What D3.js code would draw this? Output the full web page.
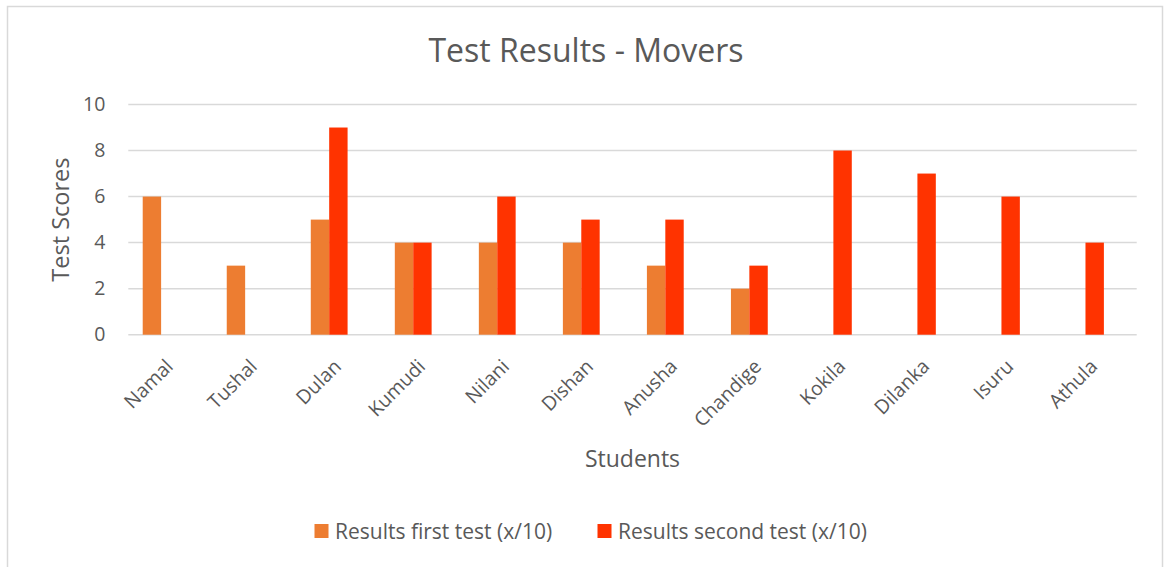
<!DOCTYPE html>
<html>
<head>
    <meta charset="UTF-8">
    <title>Test Results - Movers</title>
    <style>
        body { margin: 0; background: #fff; }
        text { font-family: "Open Sans", sans-serif; fill: #595959; }
    </style>
</head>
<body>
    <div id="graph-container"></div>

    <script src="https://cdn.jsdelivr.net/npm/d3@7"></script>
    <script>
        // Data
        const students = ["Namal", "Tushal", "Dulan", "Kumudi", "Nilani", "Dishan",
            "Anusha", "Chandige", "Kokila", "Dilanka", "Isuru", "Athula"];
        const firstTest = [6, 3, 5, 4, 4, 4, 3, 2, null, null, null, null];
        const secondTest = [null, null, 9, 4, 6, 5, 5, 3, 8, 7, 6, 4];
        const yTicks = [0, 2, 4, 6, 8, 10];

        const series = [
            { key: "first", name: "Results first test (x/10)", values: firstTest, color: "#ED7D31" },
            { key: "second", name: "Results second test (x/10)", values: secondTest, color: "#FF3300" }
        ];

        const W = 1165, H = 567;
        const plot = { left: 128.3, right: 1136.7, top: 104.5, bottom: 334.7 };

        const svg = d3.select("#graph-container")
            .append("svg")
            .attr("width", W)
            .attr("height", H);

        // Chart frame
        svg.append("rect")
            .attr("x", 7.5)
            .attr("y", 6.5)
            .attr("width", 1155)
            .attr("height", 580)
            .attr("fill", "#fff")
            .attr("stroke", "#d9d9d9")
            .attr("stroke-width", 1.5);

        // Scales
        const x = d3.scaleBand()
            .domain(students)
            .range([plot.left, plot.right])
            .paddingInner(0.343)
            .paddingOuter(0.1715);

        // three slots per group (the third one stays empty, as in the original)
        const x1 = d3.scaleBand()
            .domain(["first", "second", "blank"])
            .range([0, x.bandwidth()]);

        const y = d3.scaleLinear()
            .domain([0, 10])
            .range([plot.bottom, plot.top]);

        // Gridlines
        svg.append("g")
            .selectAll("line")
            .data(yTicks)
            .join("line")
            .attr("x1", plot.left)
            .attr("x2", plot.right)
            .attr("y1", d => y(d))
            .attr("y2", d => y(d))
            .attr("stroke", "#d9d9d9")
            .attr("stroke-width", 1.5);

        // Y axis labels
        const yAxis = svg.append("g")
            .attr("transform", `translate(${plot.left},0)`)
            .call(d3.axisLeft(y).tickValues(yTicks).tickSize(0).tickPadding(23));
        yAxis.select(".domain").remove();
        yAxis.selectAll("text")
            .style("font-family", "'Open Sans', sans-serif")
            .style("font-size", "19.5px")
            .attr("fill", "#595959");

        // Bars
        series.forEach(s => {
            svg.append("g")
                .selectAll("rect")
                .data(students.map((name, i) => ({ name, value: s.values[i] })).filter(d => d.value != null))
                .join("rect")
                .attr("x", d => x(d.name) + x1(s.key))
                .attr("width", x1.bandwidth())
                .attr("y", d => y(d.value))
                .attr("height", d => y(0) - y(d.value))
                .attr("fill", s.color);
        });

        // Category labels (rotated)
        svg.append("g")
            .selectAll("text")
            .data(students)
            .join("text")
            .attr("transform", d => `translate(${x(d) + x.bandwidth() / 2 + 4},${plot.bottom + 33}) rotate(-45)`)
            .attr("text-anchor", "end")
            .style("font-size", "19.5px")
            .text(d => d);

        // Title
        svg.append("text")
            .attr("x", 586)
            .attr("y", 61.5)
            .attr("text-anchor", "middle")
            .style("font-size", "32px")
            .text("Test Results - Movers");

        // Axis titles
        svg.append("text")
            .attr("transform", `translate(68.5,${(plot.top + plot.bottom) / 2}) rotate(-90)`)
            .attr("text-anchor", "middle")
            .style("font-size", "23.5px")
            .text("Test Scores");

        svg.append("text")
            .attr("x", (plot.left + plot.right) / 2)
            .attr("y", 467)
            .attr("text-anchor", "middle")
            .style("font-size", "23px")
            .text("Students");

        // Legend
        const legendX = [314.5, 597.5];
        const legend = svg.append("g")
            .selectAll("g")
            .data(series)
            .join("g")
            .attr("transform", (d, i) => `translate(${legendX[i]},524)`);

        legend.append("rect")
            .attr("width", 14)
            .attr("height", 14)
            .attr("fill", d => d.color);

        legend.append("text")
            .attr("x", 20.5)
            .attr("y", 14.5)
            .style("font-size", "21px")
            .text(d => d.name);
    </script>
</body>
</html>
